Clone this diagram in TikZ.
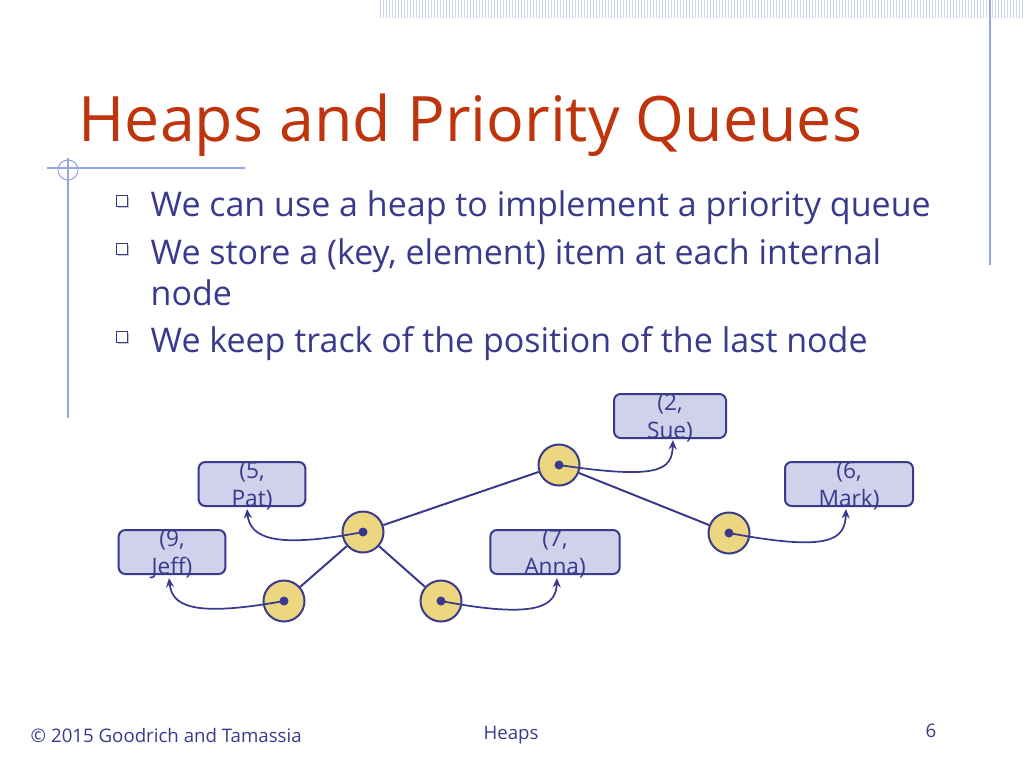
\documentclass[tikz,border=0pt]{standalone}
\usepackage{fontspec}
\setmainfont{Open Sans}
\usetikzlibrary{arrows.meta,shadows}
\definecolor{titlered}{RGB}{190,52,12}
\definecolor{textblue}{RGB}{58,58,140}
\definecolor{framebl}{RGB}{150,165,225}
\definecolor{keyfill}{RGB}{208,210,236}
\definecolor{nodefill}{RGB}{236,214,128}
\newlength{\pxu}\setlength{\pxu}{0.75pt}
\tikzset{
	heapnode/.style={circle, draw=textblue, line width=1.5pt, fill=nodefill, minimum size=41\pxu},
	item/.style 2 args={rectangle, rounded corners=5pt, draw=textblue, line width=1.5pt, fill=keyfill,
		minimum height=33pt, minimum width=#1,
		label={[text=textblue, font=\fontsize{17}{21}\selectfont, align=center, yshift=-1.5pt]center:#2}},
	link/.style={draw=textblue, line width=1.5pt},
	ptr/.style={draw=textblue, line width=1.3pt, -{Stealth[length=7pt,width=6pt]}},
	bullet/.style={text=textblue, font=\fontsize{25.5}{31}\selectfont, anchor=west, align=left},
}
\begin{document}
\begin{tikzpicture}[x=0.75pt, y=-0.75pt]
	\useasboundingbox (0,0) rectangle (1024,768);
	% frame decoration
	\foreach \i in {380,383,...,1022} \draw[framebl!45, line width=0.5pt] (\i,0) -- (\i,18);
	\draw[framebl, line width=0.8pt] (990,0) -- (990,265);
	\draw[framebl, line width=0.8pt] (68,158) -- (68,418);
	\draw[framebl, line width=0.8pt] (47,168) -- (245,168);
	\draw[framebl, line width=0.8pt] (68,170) circle (10);
	% title and bullets
	\node[anchor=west, text=titlered, font=\fontsize{47}{52}\selectfont] (title) at (74,125) {Heaps and Priority Queues};
	\foreach \y/\name in {201/b1, 249/b2, 337/b3}
		\node[draw=textblue, fill=white, line width=0.8pt, minimum size=8.5pt, inner sep=0pt,
			drop shadow={shadow xshift=1.2pt, shadow yshift=-1.2pt, fill=textblue!60}] (\name) at (122,\y) {};
	\node[bullet] (t1) at (146,208) {We can use a heap to implement a priority queue};
	\node[bullet, anchor=north west] (t2) at (146,234) {We store a (key, element) item at each internal\\node};
	\node[bullet] (t3) at (146,344) {We keep track of the position of the last node};
	% heap
	\node[heapnode] (root) at (559,465) {};
	\node[heapnode] (l)  at (363,532) {};
	\node[heapnode] (r)  at (729,533) {};
	\node[heapnode] (ll) at (284,601) {};
	\node[heapnode] (lr) at (441,601) {};
	\draw[link] (root) -- (l);
	\draw[link] (root) -- (r);
	\draw[link] (l) -- (ll);
	\draw[link] (l) -- (lr);
	% items
	\node[item={84pt}{(2,\\Sue)}]   (sue)  at (670,416) {};
	\node[item={80pt}{(5,\\Pat)}]   (pat)  at (252,484) {};
	\node[item={96pt}{(6,\\Mark)}]  (mark) at (849,484) {};
	\node[item={80pt}{(9,\\Jeff)}]  (jeff) at (172,552) {};
	\node[item={97pt}{(7,\\Anna)}]  (anna) at (555,552) {};
	\foreach \n in {root,l,r,ll,lr} \fill[textblue] (\n.center) circle (4.5);
	\draw[ptr] (root.center) .. controls (660,480) and (672,470) .. (673,440);
	\draw[ptr] (l.center) .. controls (280,548) and (250,540) .. (247,509);
	\draw[ptr] (r.center) .. controls (830,552) and (845,540) .. (846,509);
	\draw[ptr] (ll.center) .. controls (190,618) and (172,605) .. (169,578);
	\draw[ptr] (lr.center) .. controls (540,620) and (556,605) .. (557,578);
	% footer
	\node[anchor=west, text=textblue, font=\fontsize{14}{16}\selectfont] (copy) at (26,735) {© 2015 Goodrich and Tamassia};
	\node[text=textblue, font=\fontsize{14}{16}\selectfont] (topic) at (511,735) {Heaps};
	\node[text=textblue, font=\fontsize{14}{16}\selectfont] (page) at (931,731) {6};
\end{tikzpicture}
\end{document}
